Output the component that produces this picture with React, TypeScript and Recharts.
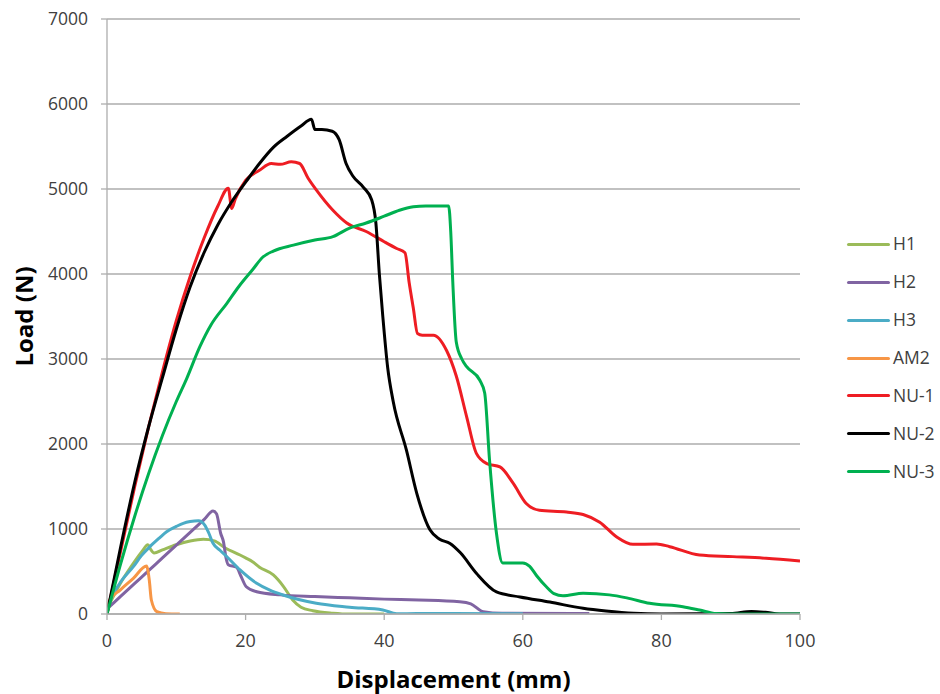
import React from 'react';
import { LineChart, Line, XAxis, YAxis, CartesianGrid, Label } from 'recharts';

// Displacement (mm), Load (N) pairs
const H1: number[][] = [
  [0, 60], [1, 220], [2, 370], [3, 500], [4, 620], [5, 730], [5.9, 815], [6.3, 760], [6.8, 718],
  [8, 755], [10, 815], [12, 858], [13.9, 878], [15.5, 860], [17, 780], [19.2, 694], [20, 660],
  [21, 615], [22, 550], [24, 459], [25.5, 320], [26.8, 165], [28, 80], [29.7, 39], [32.6, 10],
  [35, 0], [40, 0],
];
const H2: number[][] = [
  [0, 60], [2, 210], [4, 360], [6, 510], [8, 660], [10, 810], [12, 960], [14, 1110], [15.3, 1212],
  [15.8, 1180], [16.4, 950], [16.8, 851], [17.2, 650], [17.5, 580], [18.7, 549], [19.3, 450],
  [20.1, 321], [21.6, 262], [25, 225], [30, 205], [35, 190], [40, 175], [45, 165], [50.9, 145],
  [52.5, 120], [54.3, 27], [57, 8], [69.6, 5],
];
const H3: number[][] = [
  [0, 60], [1, 250], [2, 380], [3.8, 557], [5, 690], [6.2, 792], [7.5, 890], [8.6, 968], [10, 1030],
  [11, 1067], [12, 1088], [13.2, 1098], [14.1, 1047], [14.7, 950], [15.3, 832], [16.3, 750],
  [17.3, 674], [19.2, 518], [21.6, 361], [23.5, 280], [25.4, 224], [30.2, 126], [35, 80],
  [39.8, 47], [41.8, 3], [44.7, 5], [50, 5], [60, 2],
];
const AM2: number[][] = [
  [0, 60], [0.4, 165], [1.9, 282], [3.8, 420], [5.7, 565], [6.1, 400], [6.4, 165], [7.2, 27],
  [8.5, 3], [10.5, 0],
];
const NU1: number[][] = [
  [0, 0], [2, 750], [4, 1500], [6, 2200], [8, 2850], [10, 3450], [12, 3970], [14, 4420],
  [16, 4800], [17.5, 5010], [18, 4770], [18.5, 4880], [20, 5100], [22, 5220], [23.7, 5300],
  [25, 5290], [26.6, 5320], [27.8, 5300], [29, 5130], [30.2, 4990], [32.6, 4750], [34.6, 4600],
  [37.4, 4500], [40, 4380], [41.8, 4300], [43, 4250], [43.6, 3900], [44.2, 3600], [44.8, 3300],
  [45.5, 3280], [47.1, 3280], [49, 3100], [50.4, 2800], [51.9, 2320], [53.3, 1890], [54.8, 1770],
  [56.7, 1730], [58.6, 1540], [60.5, 1300], [62.4, 1220], [66.3, 1200], [68.7, 1170], [71.1, 1080],
  [73.5, 910], [75.9, 820], [79.3, 824], [81.2, 792], [85.5, 694], [90.3, 675], [95.1, 655],
  [100, 624],
];
const NU2: number[][] = [
  [0, 0], [2, 800], [4, 1550], [6, 2200], [8, 2780], [10, 3350], [12, 3850], [14, 4250],
  [16, 4580], [18, 4850], [20, 5080], [22, 5300], [24, 5490], [26, 5620], [28, 5740], [29.5, 5820],
  [30, 5700], [31, 5700], [32.5, 5680], [33.5, 5580], [34.5, 5300], [35.5, 5150], [37, 5020],
  [38.2, 4870], [38.8, 4600], [39.3, 4000], [39.8, 3500], [40.5, 2900], [41.3, 2500], [43.2, 1930],
  [44.7, 1420], [46.6, 990], [48, 880], [49.5, 830], [51, 720], [53.3, 480], [56.2, 260],
  [59.6, 200], [63.9, 140], [68.7, 67], [72, 35], [76, 8], [80, 0], [90, 5], [93, 30], [95, 20],
  [97, 0], [100, 0],
];
const NU3: number[][] = [
  [0, 0], [2, 600], [4, 1150], [6, 1650], [8, 2100], [10, 2500], [11.5, 2770], [13.4, 3145],
  [15, 3400], [17.3, 3655], [19, 3850], [21, 4050], [22.5, 4200], [24, 4270], [26.9, 4340],
  [30, 4400], [32.6, 4440], [35, 4540], [37.4, 4600], [40, 4680], [42.2, 4750], [44.2, 4790],
  [46, 4800], [49.3, 4800], [49.6, 4500], [49.9, 3900], [50.4, 3200], [51.2, 3000], [51.9, 2910],
  [53.8, 2750], [54.5, 2600], [55.2, 1810], [56.2, 950], [57.1, 600], [60, 600], [61, 560],
  [62, 450], [63.4, 320], [64.5, 240], [65.8, 215], [68.7, 243], [72.5, 225], [75, 190],
  [78.3, 126], [83.1, 86], [85.5, 47], [87.9, 5], [90, 0], [100, 0],
];

const seriesNames = ['H1', 'H2', 'H3', 'AM2', 'NU-1', 'NU-2', 'NU-3'];
const seriesValues = [H1, H2, H3, AM2, NU1, NU2, NU3];
const seriesColors = ['#9BBB59', '#8064A2', '#4BACC6', '#F79646', '#EE1D23', '#000000', '#00B050'];

const xTicks = [0, 20, 40, 60, 80, 100];
const yTicks = [0, 1000, 2000, 3000, 4000, 5000, 6000, 7000];

const FONT = '"Open Sans", "DejaVu Sans", sans-serif';
const GRID = '#ADADAD';

const toPoints = (arr: number[][]) => arr.map(([x, y]) => ({ x, y }));

export default function App() {
  return (
    <div style={{ position: 'absolute', left: 0, top: 0, width: 940, height: 694, background: '#fff' }}>
      <LineChart width={940} height={694} margin={{ top: 19, right: 140, bottom: 0, left: 0 }}>
        <CartesianGrid vertical={false} stroke={GRID} strokeWidth={1.3} />
        <XAxis
          type="number"
          dataKey="x"
          domain={[0, 100]}
          ticks={xTicks}
          allowDataOverflow
          height={80}
          axisLine={{ stroke: GRID, strokeWidth: 1.3 }}
          tickLine={{ stroke: GRID, strokeWidth: 1.3 }}
          tickSize={6}
          tickMargin={14}
          tick={{ fill: '#404040', fontSize: 18, fontFamily: FONT }}
        >
          <Label
            value="Displacement (mm)"
            position="insideBottom"
            offset={6}
            style={{ fontFamily: FONT, fontSize: 24, fontWeight: 700, fill: '#000' }}
          />
        </XAxis>
        <YAxis
          type="number"
          domain={[0, 7000]}
          ticks={yTicks}
          allowDataOverflow
          width={107}
          axisLine={{ stroke: GRID, strokeWidth: 1.3 }}
          tickLine={{ stroke: GRID, strokeWidth: 1.3 }}
          tickSize={6}
          tickMargin={13}
          tick={{ fill: '#404040', fontSize: 17.5, fontFamily: FONT }}
        >
          <Label
            content={(props: any) => {
              const vb = props.viewBox || { x: 0, y: 19, width: 107, height: 595 };
              const cx = vb.x + 23;
              const cy = vb.y + vb.height / 2;
              return (
                <text
                  x={cx}
                  y={cy}
                  transform={`rotate(-90 ${cx} ${cy})`}
                  textAnchor="middle"
                  dominantBaseline="central"
                  style={{ fontFamily: FONT, fontSize: 24, fontWeight: 700, fill: '#000' }}
                >
                  Load (N)
                </text>
              );
            }}
          />
        </YAxis>
        {seriesValues.map((vals, i) => (
          <Line
            key={seriesNames[i]}
            data={toPoints(vals)}
            dataKey="y"
            name={seriesNames[i]}
            type="monotone"
            stroke={seriesColors[i]}
            strokeWidth={3}
            dot={false}
            activeDot={false}
            isAnimationActive={false}
          />
        ))}
      </LineChart>
      {seriesNames.map((name, i) => {
        const cy = 244.3 + i * 37.9;
        return (
          <div key={name}>
            <div
              style={{
                position: 'absolute',
                left: 847,
                top: cy - 1.5,
                width: 43,
                height: 3,
                borderRadius: 1.5,
                background: seriesColors[i],
              }}
            />
            <span
              style={{
                position: 'absolute',
                left: 893,
                top: cy,
                transform: 'translateY(-50%)',
                fontFamily: FONT,
                fontSize: 17.5,
                color: '#404040',
                lineHeight: 1,
                whiteSpace: 'nowrap',
              }}
            >
              {name}
            </span>
          </div>
        );
      })}
    </div>
  );
}
